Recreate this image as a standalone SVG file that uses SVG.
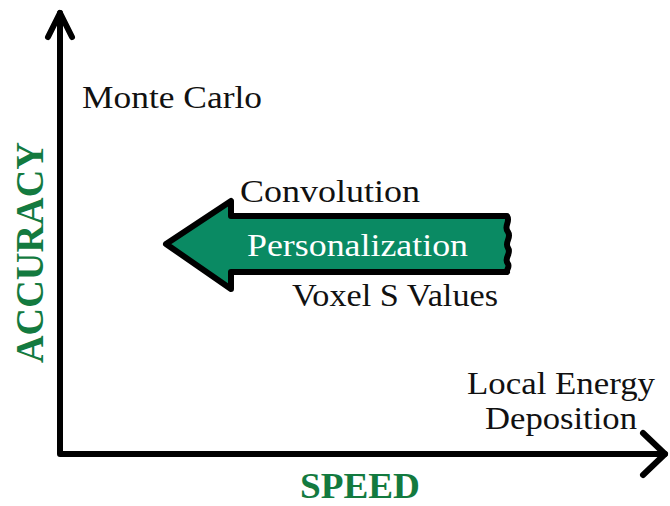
<svg xmlns="http://www.w3.org/2000/svg" width="670" height="506" viewBox="0 0 670 506">
<style>
.lbl{font-family:"Liberation Serif","Times New Roman",serif;font-size:31px;fill:#111}
.ax{font-family:"Liberation Serif","Times New Roman",serif;font-weight:bold;fill:#137a3f}
.axis{stroke:#000;stroke-width:6;fill:none;stroke-linecap:round;stroke-linejoin:round}
</style>
<rect width="670" height="506" fill="#fff"/>
<g id="connectors">
<path class="axis" d="M60,13 V454 H665"/>
<path class="axis" d="M48,37 L60,13 L72,37"/>
<path class="axis" d="M643,433 L665,454 L643,475"/>
</g>
<g id="arrow">
<path d="M166,244 L231,201 L231,216 L507,216 C511,222 503,226 508,232 C512,238 504,242 508,248 C512,254 503,258 508,264 C510,267 506,270 507,272 L231,272 L231,289 Z" fill="#0a8a63" stroke="#000" stroke-width="6" stroke-linejoin="round"/>
<text x="247" y="256" class="lbl" style="fill:#fff" textLength="221" lengthAdjust="spacingAndGlyphs">Personalization</text>
</g>
<g id="monte-carlo"><text x="82" y="108" class="lbl" textLength="180" lengthAdjust="spacingAndGlyphs">Monte Carlo</text></g>
<g id="convolution"><text x="240" y="202" class="lbl" textLength="180" lengthAdjust="spacingAndGlyphs">Convolution</text></g>
<g id="voxel"><text x="292" y="306" class="lbl" textLength="206" lengthAdjust="spacingAndGlyphs">Voxel S Values</text></g>
<g id="local-energy">
<text x="467" y="394" class="lbl" textLength="188" lengthAdjust="spacingAndGlyphs">Local Energy</text>
<text x="485" y="429" class="lbl" textLength="152" lengthAdjust="spacingAndGlyphs">Deposition</text>
</g>
<g id="speed"><text x="300" y="498" class="ax" font-size="36" textLength="120" lengthAdjust="spacingAndGlyphs">SPEED</text></g>
<g id="accuracy"><text transform="translate(43,363) rotate(-90)" x="0" y="0" class="ax" font-size="40" textLength="221" lengthAdjust="spacingAndGlyphs">ACCURACY</text></g>
</svg>
